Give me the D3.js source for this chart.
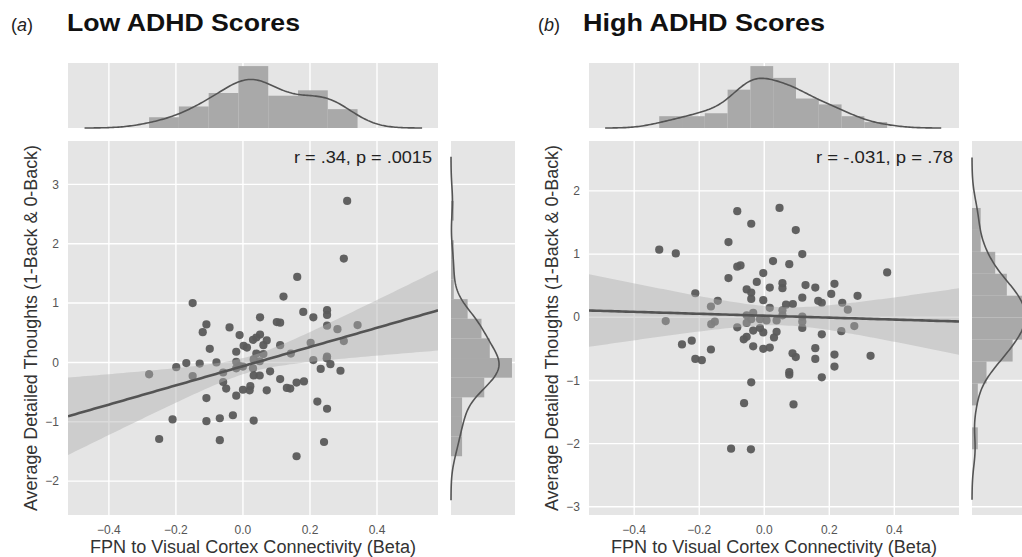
<!DOCTYPE html>
<html>
<head>
<meta charset="utf-8">
<script src="https://cdn.jsdelivr.net/npm/d3@7"></script>
<style>
  body { margin: 0; background: #fff; }
  svg { display: block; }
  text { font-family: "Liberation Sans", Arial, sans-serif; }
</style>
</head>
<body>
<svg id="chart" width="1022" height="557"></svg>
<script>
// ---- data ----
const lowX = [0.162, 0.121, -0.150, 0.180, 0.251, 0.251, 0.210, 0.051, 0.101, 0.111,
  -0.109, -0.120, -0.040, 0.251, 0.282, 0.342, -0.010, 0.051, 0.040, 0.030,
  0.071, 0.111, 0.061, 0.002, 0.012, -0.099, -0.020, 0.040, 0.061, 0.143,
  0.202, 0.301, 0.251, 0.250, 0.210, 0.261, 0.232, 0.291, -0.169, -0.199,
  -0.129, -0.079, -0.020, 0.032, 0.050, -0.010, -0.020, 0.000, 0.030, -0.059,
  0.081, 0.032, 0.050, -0.280, -0.150, 0.111, 0.160, 0.182, -0.059, -0.050,
  0.022, 0.020, 0.000, 0.071, 0.131, 0.141, -0.020, -0.109, 0.222, 0.251,
  -0.030, -0.069, -0.210, -0.109, 0.032, -0.250, -0.069, 0.242, 0.160, 0.311, 0.301]
const lowY = [1.44, 1.11, 1.00, 0.85, 0.88, 0.80, 0.76, 0.76, 0.68, 0.67,
  0.64, 0.51, 0.59, 0.62, 0.56, 0.63, 0.46, 0.47, 0.42, 0.38,
  0.37, 0.29, 0.29, 0.28, 0.25, 0.23, 0.18, 0.15, 0.14, 0.15,
  0.33, 0.36, 0.10, 0.07, 0.04, -0.03, -0.11, -0.14, -0.01, -0.08,
  -0.02, 0.00, 0.01, 0.05, 0.02, -0.06, -0.10, -0.07, -0.10, -0.17,
  -0.15, -0.22, -0.22, -0.20, -0.23, -0.28, -0.34, -0.32, -0.33, -0.44,
  -0.40, -0.47, -0.46, -0.47, -0.43, -0.44, -0.56, -0.60, -0.66, -0.78,
  -0.89, -0.94, -0.96, -0.99, -0.98, -1.29, -1.31, -1.34, -1.58, 2.72, 1.75]

const highX = [-0.083, 0.047, -0.040, 0.097, -0.110, -0.323, -0.272, 0.117, 0.027, 0.077,
  -0.083, -0.073, 0.378, -0.110, -0.003, -0.023, 0.056, 0.056, 0.017, 0.127,
  0.157, 0.216, -0.054, -0.040, -0.040, -0.212, 0.206, 0.287, 0.117, -0.003,
  0.166, 0.177, 0.240, -0.143, -0.164, 0.067, 0.088, 0.017, 0.257, 0.056,
  -0.034, -0.054, 0.056, 0.117, -0.040, -0.013, 0.007, 0.038, 0.117, -0.303,
  -0.152, -0.163, -0.054, 0.117, -0.083, -0.034, -0.013, -0.003, 0.038, 0.277,
  0.237, 0.177, -0.054, -0.063, 0.030, -0.223, -0.253, -0.164, -0.034, -0.003,
  0.017, 0.157, 0.087, 0.097, -0.212, -0.192, 0.157, 0.216, 0.327, 0.077,
  0.077, 0.216, 0.177, -0.040, -0.062, 0.090, -0.102, -0.041]
const highY = [1.68, 1.73, 1.48, 1.38, 1.19, 1.07, 1.01, 1.00, 0.89, 0.84,
  0.80, 0.82, 0.71, 0.62, 0.70, 0.56, 0.54, 0.46, 0.47, 0.51,
  0.47, 0.53, 0.44, 0.39, 0.29, 0.38, 0.37, 0.34, 0.31, 0.27,
  0.26, 0.23, 0.23, 0.26, 0.17, 0.20, 0.21, 0.15, 0.12, 0.11,
  0.07, 0.03, 0.03, 0.01, -0.03, -0.03, -0.05, -0.05, -0.07, -0.06,
  -0.07, -0.11, -0.09, -0.17, -0.16, -0.21, -0.17, -0.24, -0.23, -0.14,
  -0.22, -0.27, -0.31, -0.35, -0.32, -0.37, -0.43, -0.51, -0.46, -0.50,
  -0.48, -0.49, -0.57, -0.63, -0.66, -0.68, -0.66, -0.59, -0.61, -0.87,
  -0.91, -0.78, -0.95, -1.03, -1.36, -1.38, -2.08, -2.09]

const xTicks = [-0.4, -0.2, 0.0, 0.2, 0.4]
const lowYTicks = [-2, -1, 0, 1, 2, 3]
const highYTicks = [-3, -2, -1, 0, 1, 2]

const panels = [
  { tag: "a", title: "Low ADHD Scores", stat: "r = .34, p = .0015",
    xs: lowX, ys: lowY, yTicks: lowYTicks,
    left: 68, xDomain: [-0.522, 0.582], yDomain: [-2.57, 3.73], xBins: 7, yBins: 13 },
  { tag: "b", title: "High ADHD Scores", stat: "r = -.031, p = .78",
    xs: highX, ys: highY, yTicks: highYTicks,
    left: 589, xDomain: [-0.539, 0.599], yDomain: [-3.13, 2.79], xBins: 10, yBins: 11 }
]

// ---- layout ----
const plotW = 370
const plotTop = 141, plotBottom = 515
const margTop = 63, margBottom = 128
const margGap = 13, margW = 64

const bg = "#e5e5e5"
const dotColor = "#5a5a5a"
const lineColor = "#545454"
const barColor = "#a9a9a9"
const minus = s => s.replace("-", "\u2212")

const svg = d3.select("#chart")

// ---- helpers ----
function histogram(values, nb) {
  const [lo, hi] = d3.extent(values)
  const w = (hi - lo) / nb
  const th = d3.range(1, nb).map(i => lo + i * w)
  return d3.bin().domain([lo, hi]).thresholds(th)(values)
    .map(b => ({ x0: b.x0, x1: b.x1, d: b.length / (values.length * w) }))
}

function bandwidth(values) {
  const s = values.slice().sort(d3.ascending)
  const iqr = (d3.quantile(s, 0.75) - d3.quantile(s, 0.25)) / 1.349
  return 1.059 * Math.min(d3.deviation(s), iqr) * Math.pow(s.length, -0.2)
}

function kde(values) {
  const bw = bandwidth(values)
  const [lo, hi] = d3.extent(values)
  const a = lo - 3 * bw, b = hi + 3 * bw
  const norm = values.length * bw * Math.sqrt(2 * Math.PI)
  return d3.range(0, 201).map(i => {
    const t = a + (b - a) * i / 200
    let s = 0
    for (const v of values) { const u = (t - v) / bw; s += Math.exp(-0.5 * u * u) }
    return [t, s / norm]
  })
}

// OLS fit with a robust (sandwich) 95% band, close to seaborn's bootstrap band
function regress(xs, ys) {
  const n = xs.length, mx = d3.mean(xs), my = d3.mean(ys)
  let sxx = 0, sxy = 0
  xs.forEach((x, i) => { sxx += (x - mx) ** 2; sxy += (x - mx) * (ys[i] - my) })
  const b = sxy / sxx, a = my - b * mx
  let m00 = 0, m01 = 0, m11 = 0
  xs.forEach((x, i) => {
    const e2 = (ys[i] - a - b * x) ** 2, d = x - mx
    m00 += e2; m01 += e2 * d; m11 += e2 * d * d
  })
  const k = n / (n - 2)
  const vA = k * m00 / (n * n), vB = k * m11 / (sxx * sxx), cAB = k * m01 / (n * sxx)
  return x => {
    const d = x - mx
    const se = Math.sqrt(vA + d * d * vB + 2 * d * cAB)
    const yh = a + b * x
    return { y: yh, lo: yh - 1.96 * se, hi: yh + 1.96 * se }
  }
}

// ---- draw ----
panels.forEach((p, pi) => {
  const x0 = p.left, x1 = p.left + plotW
  const x = d3.scaleLinear().domain(p.xDomain).range([x0, x1])
  const y = d3.scaleLinear().domain(p.yDomain).range([plotBottom, plotTop])

  const g = svg.append("g")

  // titles
  const tagX = pi === 0 ? 11 : 538
  const t = g.append("text").attr("x", tagX).attr("y", 31)
    .attr("font-size", 18).attr("fill", "#222")
  t.append("tspan").text("(")
  t.append("tspan").attr("font-style", "italic").text(p.tag)
  t.append("tspan").text(")")
  g.append("text").attr("x", pi === 0 ? 67 : 583).attr("y", 31)
    .attr("font-size", 23).attr("font-weight", "bold").attr("fill", "#111")
    .attr("textLength", pi === 0 ? 233 : 242).attr("lengthAdjust", "spacingAndGlyphs")
    .text(p.title)

  // main panel
  g.append("rect").attr("x", x0).attr("y", plotTop).attr("width", plotW).attr("height", plotBottom - plotTop).attr("fill", bg)
  const clipId = "clip" + pi
  g.append("clipPath").attr("id", clipId).append("rect")
    .attr("x", x0).attr("y", plotTop).attr("width", plotW).attr("height", plotBottom - plotTop)

  g.selectAll(".vg").data(xTicks).join("line")
    .attr("x1", d => x(d)).attr("x2", d => x(d)).attr("y1", plotTop).attr("y2", plotBottom)
    .attr("stroke", "#fff").attr("stroke-width", 1.4)
  g.selectAll(".hg").data(p.yTicks).join("line")
    .attr("x1", x0).attr("x2", x1).attr("y1", d => y(d)).attr("y2", d => y(d))
    .attr("stroke", "#fff").attr("stroke-width", 1.4)

  const fit = regress(p.xs, p.ys)
  const grid = d3.range(0, 101).map(i => p.xDomain[0] + (p.xDomain[1] - p.xDomain[0]) * i / 100)
  const pc = g.append("g").attr("clip-path", `url(#${clipId})`)

  pc.selectAll("circle").data(p.xs).join("circle")
    .attr("cx", d => x(d)).attr("cy", (d, i) => y(p.ys[i])).attr("r", 4.1)
    .attr("fill", dotColor).attr("fill-opacity", 0.95)

  pc.append("path").datum(grid)
    .attr("d", d3.area().x(d => x(d)).y0(d => y(fit(d).lo)).y1(d => y(fit(d).hi)))
    .attr("fill", "#b0b0b0").attr("fill-opacity", 0.45)
  pc.append("path").datum(grid)
    .attr("d", d3.line().x(d => x(d)).y(d => y(fit(d).y)))
    .attr("fill", "none").attr("stroke", lineColor).attr("stroke-width", 2.6)

  g.append("text").attr("x", x1 - 6).attr("y", plotTop + 22).attr("text-anchor", "end")
    .attr("font-size", 16).attr("fill", "#222")
    .attr("textLength", pi === 0 ? 138 : 137).attr("lengthAdjust", "spacingAndGlyphs")
    .text(p.stat)

  // axes text
  g.selectAll(".xt").data(xTicks).join("text")
    .attr("x", d => x(d)).attr("y", 534).attr("text-anchor", "middle")
    .attr("font-size", 12).attr("fill", "#555")
    .text(d => minus(d3.format(".1f")(d)))
  g.selectAll(".yt").data(p.yTicks).join("text")
    .attr("x", x0 - 9).attr("y", d => y(d)).attr("dy", "0.35em").attr("text-anchor", "end")
    .attr("font-size", 12).attr("fill", "#555")
    .text(d => minus(String(d)))
  g.append("text").attr("x", (x0 + x1) / 2).attr("y", 553).attr("text-anchor", "middle")
    .attr("font-size", 18).attr("fill", "#333")
    .attr("textLength", 326).attr("lengthAdjust", "spacingAndGlyphs")
    .text("FPN to Visual Cortex Connectivity (Beta)")
  g.append("text")
    .attr("transform", `translate(${x0 - 31},${(plotTop + plotBottom) / 2}) rotate(-90)`)
    .attr("text-anchor", "middle").attr("font-size", 18).attr("fill", "#333")
    .attr("textLength", 366).attr("lengthAdjust", "spacingAndGlyphs")
    .text("Average Detailed Thoughts (1-Back & 0-Back)")

  // top marginal
  const hx = histogram(p.xs, p.xBins), kx = kde(p.xs)
  const dxMax = Math.max(d3.max(hx, d => d.d), d3.max(kx, d => d[1]))
  const ty = d3.scaleLinear().domain([0, dxMax * 1.05]).range([margBottom, margTop])
  g.append("rect").attr("x", x0).attr("y", margTop).attr("width", plotW).attr("height", margBottom - margTop).attr("fill", bg)
  g.selectAll(".tg").data(xTicks).join("line")
    .attr("x1", d => x(d)).attr("x2", d => x(d)).attr("y1", margTop).attr("y2", margBottom)
    .attr("stroke", "#fff").attr("stroke-width", 1.4)
  g.selectAll(".tb").data(hx).join("rect")
    .attr("x", d => x(d.x0)).attr("width", d => x(d.x1) - x(d.x0))
    .attr("y", d => ty(d.d)).attr("height", d => margBottom - ty(d.d))
    .attr("fill", barColor)
  g.append("path").datum(kx)
    .attr("d", d3.line().x(d => x(d[0])).y(d => ty(d[1])))
    .attr("fill", "none").attr("stroke", lineColor).attr("stroke-width", 1.6)

  // right marginal
  const mx0 = x1 + margGap
  const hy = histogram(p.ys, p.yBins), ky = kde(p.ys)
  const dyMax = Math.max(d3.max(hy, d => d.d), d3.max(ky, d => d[1]))
  const rx = d3.scaleLinear().domain([0, dyMax * 1.05]).range([mx0, mx0 + margW])
  g.append("rect").attr("x", mx0).attr("y", plotTop).attr("width", margW).attr("height", plotBottom - plotTop).attr("fill", bg)
  g.selectAll(".rg").data(p.yTicks).join("line")
    .attr("x1", mx0).attr("x2", mx0 + margW).attr("y1", d => y(d)).attr("y2", d => y(d))
    .attr("stroke", "#fff").attr("stroke-width", 1.4)
  g.selectAll(".rb").data(hy).join("rect")
    .attr("x", mx0).attr("width", d => rx(d.d) - mx0)
    .attr("y", d => y(d.x1)).attr("height", d => y(d.x0) - y(d.x1))
    .attr("fill", barColor)
  g.append("path").datum(ky)
    .attr("d", d3.line().x(d => rx(d[1])).y(d => y(d[0])))
    .attr("fill", "none").attr("stroke", lineColor).attr("stroke-width", 1.6)
})
</script>
</body>
</html>
